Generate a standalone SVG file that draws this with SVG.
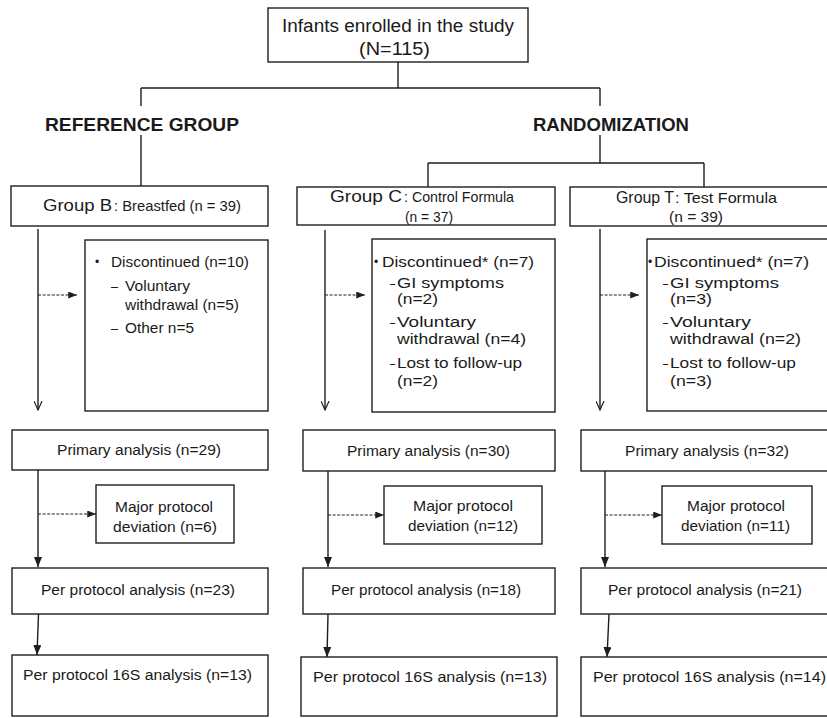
<svg xmlns="http://www.w3.org/2000/svg" width="827" height="718" viewBox="0 0 827 718">
<style>
  .box{fill:#fff;stroke:#1e1e1e;stroke-width:1.4}
  .ln{fill:none;stroke:#1e1e1e;stroke-width:1.4}
  .dash{fill:none;stroke:#1e1e1e;stroke-width:1.2;stroke-dasharray:3 1.6}
  text{font-family:"Liberation Sans",Arial,Helvetica,sans-serif;fill:#1a1a1a;font-size:15.5px}
  .big{font-size:18px}
  .hd{font-size:19px;font-weight:bold}
  .g1{font-size:16.5px}
  .g2{font-size:15px}
  .sm{font-size:15px}
  .bul{font-size:12px}
</style>
<defs>
  <marker id="openV" viewBox="0 0 10 10" refX="10" refY="5" markerWidth="10" markerHeight="9" markerUnits="userSpaceOnUse" orient="auto">
    <path d="M0,0.5 L10,5 L0,9.5" fill="none" stroke="#1e1e1e" stroke-width="1.3"/>
  </marker>
  <marker id="fill" viewBox="0 0 10 8" refX="10" refY="4" markerWidth="10" markerHeight="8" markerUnits="userSpaceOnUse" orient="auto">
    <path d="M0,0 L10,4 L0,8 Z" fill="#1e1e1e"/>
  </marker>
  <marker id="fillS" viewBox="0 0 10 8" refX="10" refY="4" markerWidth="9" markerHeight="7" markerUnits="userSpaceOnUse" orient="auto">
    <path d="M0,0 L10,4 L0,8 Z" fill="#1e1e1e"/>
  </marker>
</defs>
<rect width="827" height="718" fill="#fff"/>

<g id="connectors">
  <path class="ln" d="M398,62 V88 M141,88 H600 M141,88 V106 M141,135 V186 M600,88 V106 M600,135 V163 M428,163 H704 M428,163 V187 M704,163 V187"/>
  <line class="ln" x1="38" y1="229" x2="38" y2="410" marker-end="url(#openV)"/>
  <line class="ln" x1="325" y1="230" x2="325" y2="410" marker-end="url(#openV)"/>
  <line class="ln" x1="600" y1="229" x2="600" y2="410" marker-end="url(#openV)"/>
  <line class="dash" x1="38" y1="295" x2="77" y2="295" marker-end="url(#fillS)"/>
  <line class="dash" x1="325" y1="295" x2="365" y2="295" marker-end="url(#fillS)"/>
  <line class="dash" x1="600" y1="295" x2="639" y2="295" marker-end="url(#fillS)"/>
  <line class="ln" x1="38" y1="470" x2="38" y2="567" marker-end="url(#fill)"/>
  <line class="ln" x1="328" y1="471" x2="328" y2="567" marker-end="url(#fill)"/>
  <line class="ln" x1="605" y1="471" x2="605" y2="567" marker-end="url(#fill)"/>
  <line class="dash" x1="38" y1="514" x2="96" y2="514" marker-end="url(#fillS)"/>
  <line class="dash" x1="328" y1="515" x2="384" y2="515" marker-end="url(#fillS)"/>
  <line class="dash" x1="605" y1="515" x2="662" y2="515" marker-end="url(#fillS)"/>
  <line class="ln" x1="38.5" y1="614" x2="37" y2="655" marker-end="url(#fill)"/>
  <line class="ln" x1="328" y1="614" x2="327" y2="657" marker-end="url(#fill)"/>
  <line class="ln" x1="609" y1="614" x2="607" y2="657" marker-end="url(#fill)"/>
</g>

<g id="enrolled">
  <rect class="box" x="268" y="8" width="260" height="54"/>
  <text class="big" x="282" y="32" textLength="232" lengthAdjust="spacingAndGlyphs">Infants enrolled in the study</text>
  <text class="big" x="359" y="55" textLength="71" lengthAdjust="spacingAndGlyphs">(N=115)</text>
</g>

<g id="reference-group">
  <text class="hd" x="45" y="131" textLength="194" lengthAdjust="spacingAndGlyphs">REFERENCE GROUP</text>
</g>
<g id="randomization">
  <text class="hd" x="533" y="131" textLength="156" lengthAdjust="spacingAndGlyphs">RANDOMIZATION</text>
</g>

<g id="group-b">
  <rect class="box" x="11" y="186" width="257" height="40"/>
  <text class="g1" x="43" y="211" textLength="69" lengthAdjust="spacingAndGlyphs">Group B</text>
  <text class="g2" x="114" y="211" textLength="127" lengthAdjust="spacingAndGlyphs">: Breastfed (n = 39)</text>
</g>
<g id="group-c">
  <rect class="box" x="297" y="187" width="258" height="38"/>
  <text class="g1" x="330" y="202" textLength="72" lengthAdjust="spacingAndGlyphs">Group C</text>
  <text class="g2" x="404" y="202" textLength="110" lengthAdjust="spacingAndGlyphs">: Control Formula</text>
  <text class="g2" x="405" y="222" textLength="48" lengthAdjust="spacingAndGlyphs">(n = 37)</text>
</g>
<g id="group-t">
  <rect class="box" x="570" y="187" width="270" height="39"/>
  <text class="g1" x="616" y="203" textLength="58" lengthAdjust="spacingAndGlyphs">Group T</text>
  <text class="g2" x="675" y="203" textLength="102" lengthAdjust="spacingAndGlyphs">: Test Formula</text>
  <text class="g2" x="669" y="222" textLength="54" lengthAdjust="spacingAndGlyphs">(n = 39)</text>
</g>

<g id="disc-b">
  <rect class="box" x="85" y="240" width="183" height="171"/>
  <text class="bul" x="95" y="266">•</text>
  <text class="sm" x="111" y="267" textLength="138" lengthAdjust="spacingAndGlyphs">Discontinued (n=10)</text>
  <text class="sm" x="111" y="291" textLength="7" lengthAdjust="spacingAndGlyphs">–</text>
  <text class="sm" x="125" y="291" textLength="65" lengthAdjust="spacingAndGlyphs">Voluntary</text>
  <text class="sm" x="125" y="310" textLength="114" lengthAdjust="spacingAndGlyphs">withdrawal (n=5)</text>
  <text class="sm" x="111" y="333" textLength="7" lengthAdjust="spacingAndGlyphs">–</text>
  <text class="sm" x="125" y="333" textLength="69" lengthAdjust="spacingAndGlyphs">Other n=5</text>
</g>
<g id="disc-c">
  <rect class="box" x="372" y="239" width="183" height="173"/>
  <text class="bul" x="374" y="266">•</text>
  <text x="382" y="267" textLength="152" lengthAdjust="spacingAndGlyphs">Discontinued* (n=7)</text>
  <text x="390" y="288" textLength="5" lengthAdjust="spacingAndGlyphs">–</text>
  <text x="397" y="288" textLength="107" lengthAdjust="spacingAndGlyphs">GI symptoms</text>
  <text x="397" y="304" textLength="41" lengthAdjust="spacingAndGlyphs">(n=2)</text>
  <text x="390" y="327" textLength="5" lengthAdjust="spacingAndGlyphs">–</text>
  <text x="397" y="327" textLength="79" lengthAdjust="spacingAndGlyphs">Voluntary</text>
  <text x="397" y="344" textLength="129" lengthAdjust="spacingAndGlyphs">withdrawal (n=4)</text>
  <text x="390" y="368" textLength="5" lengthAdjust="spacingAndGlyphs">–</text>
  <text x="397" y="368" textLength="125" lengthAdjust="spacingAndGlyphs">Lost to follow-up</text>
  <text x="397" y="386" textLength="41" lengthAdjust="spacingAndGlyphs">(n=2)</text>
</g>
<g id="disc-t">
  <rect class="box" x="647" y="239" width="190" height="172"/>
  <text class="bul" x="648" y="266">•</text>
  <text x="654" y="267" textLength="155" lengthAdjust="spacingAndGlyphs">Discontinued* (n=7)</text>
  <text x="663" y="288" textLength="5" lengthAdjust="spacingAndGlyphs">–</text>
  <text x="670" y="288" textLength="109" lengthAdjust="spacingAndGlyphs">GI symptoms</text>
  <text x="670" y="304" textLength="42" lengthAdjust="spacingAndGlyphs">(n=3)</text>
  <text x="663" y="327" textLength="5" lengthAdjust="spacingAndGlyphs">–</text>
  <text x="670" y="327" textLength="81" lengthAdjust="spacingAndGlyphs">Voluntary</text>
  <text x="670" y="344" textLength="131" lengthAdjust="spacingAndGlyphs">withdrawal (n=2)</text>
  <text x="663" y="368" textLength="5" lengthAdjust="spacingAndGlyphs">–</text>
  <text x="670" y="368" textLength="126" lengthAdjust="spacingAndGlyphs">Lost to follow-up</text>
  <text x="670" y="386" textLength="42" lengthAdjust="spacingAndGlyphs">(n=3)</text>
</g>

<g id="primary-b">
  <rect class="box" x="12" y="430" width="256" height="40"/>
  <text x="57" y="455" textLength="164" lengthAdjust="spacingAndGlyphs">Primary analysis (n=29)</text>
</g>
<g id="primary-c">
  <rect class="box" x="303" y="430" width="252" height="41"/>
  <text x="347" y="456" textLength="163" lengthAdjust="spacingAndGlyphs">Primary analysis (n=30)</text>
</g>
<g id="primary-t">
  <rect class="box" x="581" y="430" width="260" height="41"/>
  <text x="625" y="456" textLength="164" lengthAdjust="spacingAndGlyphs">Primary analysis (n=32)</text>
</g>

<g id="deviation-b">
  <rect class="box" x="96" y="485" width="138" height="58"/>
  <text x="115" y="512" textLength="98" lengthAdjust="spacingAndGlyphs">Major protocol</text>
  <text x="113" y="532" textLength="104" lengthAdjust="spacingAndGlyphs">deviation (n=6)</text>
</g>
<g id="deviation-c">
  <rect class="box" x="384" y="486" width="158" height="58"/>
  <text x="413" y="511" textLength="100" lengthAdjust="spacingAndGlyphs">Major protocol</text>
  <text x="408" y="531" textLength="110" lengthAdjust="spacingAndGlyphs">deviation (n=12)</text>
</g>
<g id="deviation-t">
  <rect class="box" x="662" y="486" width="150" height="58"/>
  <text x="687" y="511" textLength="98" lengthAdjust="spacingAndGlyphs">Major protocol</text>
  <text x="681" y="531" textLength="109" lengthAdjust="spacingAndGlyphs">deviation (n=11)</text>
</g>

<g id="perprotocol-b">
  <rect class="box" x="12" y="568" width="256" height="46"/>
  <text x="41" y="595" textLength="194" lengthAdjust="spacingAndGlyphs">Per protocol analysis (n=23)</text>
</g>
<g id="perprotocol-c">
  <rect class="box" x="303" y="568" width="252" height="46"/>
  <text x="331" y="595" textLength="190" lengthAdjust="spacingAndGlyphs">Per protocol analysis (n=18)</text>
</g>
<g id="perprotocol-t">
  <rect class="box" x="581" y="568" width="260" height="46"/>
  <text x="608" y="595" textLength="194" lengthAdjust="spacingAndGlyphs">Per protocol analysis (n=21)</text>
</g>

<g id="s16-b">
  <rect class="box" x="12" y="655" width="256" height="61"/>
  <text x="23" y="680" textLength="229" lengthAdjust="spacingAndGlyphs">Per protocol 16S analysis (n=13)</text>
</g>
<g id="s16-c">
  <rect class="box" x="301" y="657" width="256" height="59"/>
  <text x="313" y="682" textLength="234" lengthAdjust="spacingAndGlyphs">Per protocol 16S analysis (n=13)</text>
</g>
<g id="s16-t">
  <rect class="box" x="581" y="657" width="260" height="59"/>
  <text x="593" y="682" textLength="233" lengthAdjust="spacingAndGlyphs">Per protocol 16S analysis (n=14)</text>
</g>
</svg>
